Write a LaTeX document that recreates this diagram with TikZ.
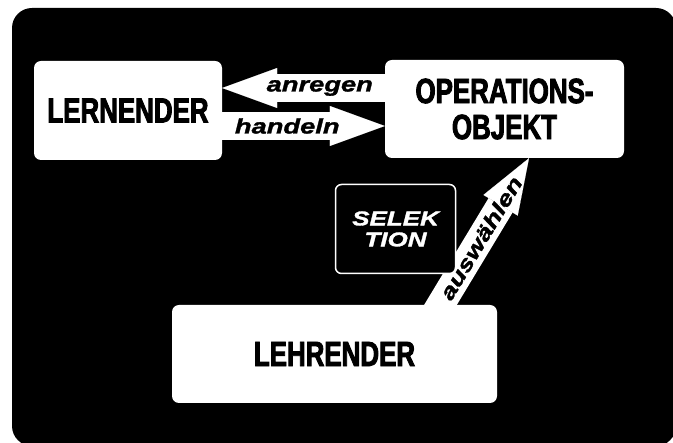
\documentclass[tikz,border=0pt]{standalone}
\usepackage{fontspec}
\setmainfont{Liberation Sans}
\newfontfamily\boxfont[FakeStretch=0.74,FakeBold=2.5]{Liberation Sans}
\newfontfamily\arrowfont[FakeStretch=1.3,FakeBold=1.5]{Liberation Sans}
\usetikzlibrary{positioning}
\usetikzlibrary{arrows.meta}
\usetikzlibrary{backgrounds}
\tikzset{
  box/.style 2 args={
    rectangle,
    rounded corners=7pt,
    fill=white,
    minimum width=#1,
    minimum height=#2,
    align=center,
    font=\boxfont\bfseries\fontsize{35}{36}\selectfont},
}

\begin{document}
\begin{tikzpicture}[
  x=1pt, y=-1pt,
  fat/.style={white, line width=28pt,
    -{Triangle[width=40pt,length=55pt,line width=0.1pt]}},
  lbl/.style={text=black, font=\arrowfont\bfseries\itshape\fontsize{21}{22}\selectfont}]
  \useasboundingbox (0,0) rectangle (673,443);

  \node[box={188pt}{99pt}] (lern) at (128,110.5) {LERNENDER};
  \node[box={239pt}{98pt}] (op) at (504.5,109) {OPERATIONS-\\OBJEKT};
  \node[box={325pt}{98pt}] (lehr) at (334.5,354) {LEHRENDER};
  \node[draw=white, line width=1.5pt, rounded corners=6pt, fill=black,
    minimum width=120pt, minimum height=89pt, align=center, text=white,
    font=\arrowfont\bfseries\itshape\fontsize{20}{21}\selectfont]
    (sel) at (395.5,229) {SELEK\\TION};

  \begin{scope}[on background layer]
    \fill[white] (0,0) rectangle (673,443);
    \fill[black, rounded corners=20pt] (12,8) rectangle (676,446);
    % arrows
    \draw[fat] ([yshift=21pt]op.west) -- ([yshift=21pt]op.west -| lern.east)
      node[lbl, pos=0.4] {anregen};
    \draw[fat] ([yshift=-15.5pt]lern.east) -- ([yshift=-15.5pt]lern.east -| op.west)
      node[lbl, pos=0.4] {handeln};
    \draw[fat] ([xshift=100pt,yshift=-10pt]lehr.north) -- ([xshift=24.5pt]op.south)
      node[lbl, pos=0.49, sloped] {auswählen};
  \end{scope}
\end{tikzpicture}
\end{document}
